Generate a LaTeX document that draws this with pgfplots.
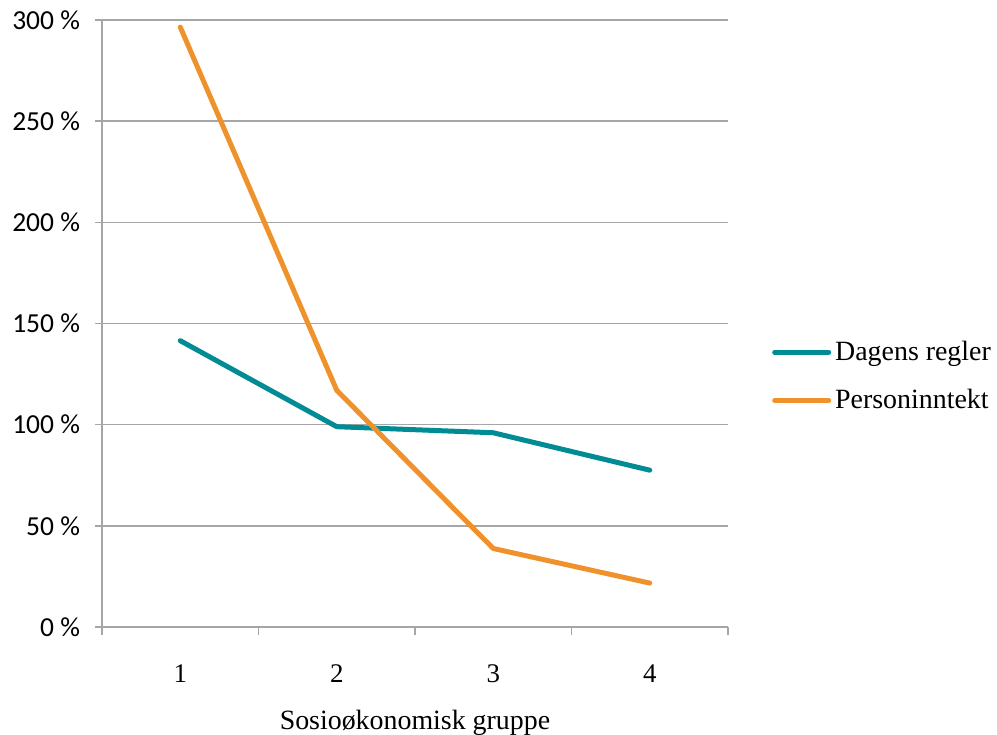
\documentclass[border=0pt]{standalone}
\usepackage{fontspec}
\setmainfont{Liberation Serif}
\newfontfamily\tickfont{Carlito}
\usepackage{pgfplots}
\pgfplotsset{compat=1.18}
\definecolor{teal1}{HTML}{008B95}
\definecolor{orange1}{HTML}{F0922C}
\definecolor{gridgray}{HTML}{A6A6A6}
\begin{document}
\begin{tikzpicture}
\begin{axis}[
  scale only axis,
  width=313bp, height=303.5bp,
  xmin=0.5, xmax=4.5,
  ymin=0, ymax=300,
  /pgf/number format/assume math mode=true,
  axis x line*=bottom,
  axis y line*=left,
  axis line style={gridgray, line width=0.8bp},
  xtick={1,2,3,4},
  minor xtick={0.5,1.5,2.5,3.5,4.5},
  major x tick style={draw=none},
  minor x tick style={gridgray, line width=0.8bp},
  minor tick length=4bp,
  tick align=outside,
  ytick={0,50,100,150,200,250,300},
  yticklabels={0 \%,50 \%,100 \%,150 \%,200 \%,250 \%,300 \%},
  major tick length=3.5bp,
  y tick style={gridgray, line width=0.8bp},
  ymajorgrids,
  grid style={gridgray, line width=0.8bp},
  yticklabel style={font=\tickfont\fontsize{13.8}{15}\selectfont, xshift=-4bp},
  xticklabel style={font=\fontsize{13.5}{15}\selectfont, yshift=-12bp},
  xlabel={Sosioøkonomisk gruppe},
  xlabel style={font=\fontsize{14}{16}\selectfont, yshift=-6.5bp},
  legend style={draw=none, at={(1.07,0.413)}, anchor=west, font=\fontsize{14}{16}\selectfont, row sep=9bp, inner sep=0pt},
  legend cell align=left,
  legend image code/.code={\draw[#1, line cap=round] (0bp,0bp) -- (27bp,0bp);},
  clip=false,
]
\addplot[teal1, line width=2.5bp, line cap=round, line join=round] coordinates {(1,141.5) (2,99) (3,96) (4,77.5)};
\addlegendentry{Dagens regler}
\addplot[orange1, line width=2.5bp, line cap=round, line join=round] coordinates {(1,296.5) (2,117) (3,38.8) (4,21.7)};
\addlegendentry{Personinntekt}
\coordinate (sw) at (rel axis cs:0,0);
\coordinate (ne) at (rel axis cs:1,1);
\end{axis}
\pgfresetboundingbox
\path ([shift={(-51bp,-54bp)}]sw) rectangle ([shift={(134.5bp,10bp)}]ne);
\end{tikzpicture}
\end{document}
